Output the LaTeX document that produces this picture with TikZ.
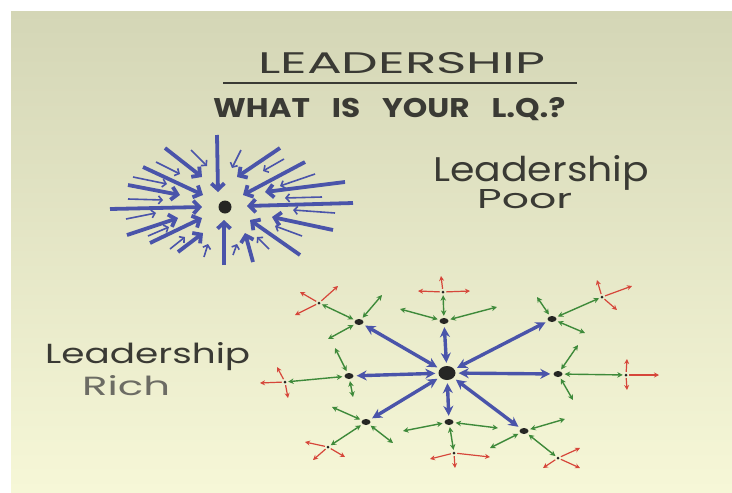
\documentclass[tikz,border=0pt]{standalone}
\usepackage{fontspec}
\setsansfont{Poppins}
\usepackage{graphicx}
\usetikzlibrary{arrows.meta,calc,shapes.geometric}
\definecolor{ink}{RGB}{58,58,52}
\definecolor{inkl}{RGB}{108,108,100}
\definecolor{bl}{RGB}{74,84,170}
\definecolor{gr}{RGB}{62,138,58}
\definecolor{rd}{RGB}{214,70,58}
\definecolor{papertop}{RGB}{212,214,182}
\definecolor{paperbot}{RGB}{247,248,216}
\definecolor{dotc}{RGB}{38,38,36}
\tikzset{
  lbl/.style={inner sep=0pt, anchor=base west, text=ink, font=\sffamily},
  thickin/.style={draw=bl, line width=3.8pt, -{Straight Barb[length=6pt,width=13pt]}},
  thinin/.style={draw=bl, line width=1.6pt, -{Straight Barb[length=3.5pt,width=8pt]}},
  bdbl/.style={draw=bl, line width=3.4pt, {Stealth[length=10pt,width=10pt]}-{Stealth[length=10pt,width=10pt]}, shorten <=3pt, shorten >=3pt},
  gdbl/.style={draw=gr, line width=1.4pt, {Stealth[length=5.5pt,width=5.5pt]}-{Stealth[length=5.5pt,width=5.5pt]}, shorten <=2pt},
  rarr/.style={draw=rd, line width=1.2pt, -{Stealth[length=5pt,width=5pt]}, shorten <=1.5pt},
  bigdot/.style={ellipse, fill=dotc, minimum width=17pt, minimum height=14pt, inner sep=0pt},
  satdot/.style={ellipse, fill=dotc, minimum width=9pt, minimum height=6pt, inner sep=0pt},
  reddot/.style={circle, fill=dotc, minimum size=3pt, inner sep=0pt},
}
\begin{document}
\begin{tikzpicture}[x=1pt,y=-1pt]
\fill[white] (0,0) rectangle (732,493);
\useasboundingbox (0,0) rectangle (732,493);
\fill[paperbot] (11,11) rectangle (745,505);
\shade[top color=papertop,bottom color=paperbot] (11,11) rectangle (745,505);

% titles
\node[lbl] (title) at (258,73) {\resizebox{287pt}{21pt}{LEADERSHIP}};
\draw[ink, line width=2pt] (223,83) -- (577,83);
\node[lbl] (question) at (213,117) {\resizebox{352pt}{20pt}{\bfseries WHAT\hspace{0.7em}IS\hspace{0.7em}YOUR\hspace{0.7em}L.Q.?}};
\node[lbl] (poor1) at (433,181) {\resizebox{216pt}{26pt}{Leadership}};
\node[lbl] (poor2) at (477,208) {\resizebox{95pt}{19pt}{Poor}};
\node[lbl] (rich1) at (45,363) {\resizebox{205pt}{21pt}{Leadership}};
\node[lbl, text=inkl] (rich2) at (82,395) {\resizebox{88pt}{20pt}{Rich}};

% leadership poor starburst
\node[circle, fill=dotc, minimum size=13pt, inner sep=0pt] (pc) at (225,207) {};
\foreach \sx/\sy/\ex/\ey in {-8/-72/-7/-15, -60/-59/-23/-30, -82/-40/-22/-12, -97/-22/-45/-12,
  -115/2/-23/0, -98/28/-47/11, -75/36/-23/11, -47/45/-22/26, -1/58/-1/13, 28/55/20/26,
  75/48/25/13, 108/23/47/10, 128/-4/22/-1, 120/-25/40/-15, 80/-45/18/-12, 55/-59/12/-30}
  \draw[thickin] ($(pc)+(\sx,\sy)$) -- ($(pc)+(\ex,\ey)$);
\foreach \sx/\sy/\ex/\ey in {-34/-57/-18/-41, 16/-57/7/-39, -69/-45/-45/-33, -92/-30/-58/-23,
  -97/-8/-62/-7, -99/12/-69/6, -77/29/-56/20, -55/42/-40/30, -21/50/-17/37, 8/48/12/37,
  44/42/32/30, 77/29/50/19, 110/6/68/3, 97/-10/60/-9, 90/-33/55/-21, 59/-48/38/-36}
  \draw[thinin] ($(pc)+(\sx,\sy)$) -- ($(pc)+(\ex,\ey)$);

% leadership rich network
\node[bigdot] (C) at (447,373) {};
\node[satdot] (s1) at (444,321) {};
\node[satdot] (s2) at (552,319) {};
\node[satdot] (s3) at (558,374) {};
\node[satdot] (s4) at (524,431) {};
\node[satdot] (s5) at (449,422) {};
\node[satdot] (s6) at (366,422) {};
\node[satdot] (s7) at (349,376) {};
\node[satdot] (s8) at (359,322) {};
\node[reddot] (r1) at (443,292) {};
\node[reddot] (r2) at (602,297) {};
\node[reddot] (r3) at (626,375) {};
\node[reddot] (r4) at (558,458) {};
\node[reddot] (r5) at (454,453) {};
\node[reddot] (r6) at (328,447) {};
\node[reddot] (r7) at (285,382) {};
\node[reddot] (r8) at (319,303) {};

\foreach \i in {1,...,8} {
  \draw[bdbl] (C) -- (s\i);
  \draw[gdbl, shorten >=1.5pt] (s\i) -- (r\i);
}
\foreach \n/\dx/\dy in {s1/-44/-12, s1/53/-14, s2/-15/-22, s2/33/14, s3/20/-29, s3/15/26,
  s4/41/-12, s4/-34/17, s5/-46/9, s5/49/6, s6/-34/-15, s6/27/21, s7/-14/-28, s7/4/21,
  s8/23/-27, s8/-31/17}
  \draw[gdbl] (\n) -- ($(\n)+(\dx,\dy)$);
\foreach \n/\dx/\dy in {r1/-25/-1, r1/27/-1, r1/-2/-16, r2/-5/-17, r2/30/-11, r2/15/13,
  r3/1/-16, r3/1/15, r3/33/0, r4/22/-10, r4/22/10, r4/-15/10, r5/-24/6, r5/36/4, r5/1/15,
  r6/-23/-5, r6/-15/13, r6/17/10, r7/-8/-15, r7/-25/1, r7/3/16, r8/-19/-11, r8/19/-17, r8/-24/12}
  \draw[rarr] (\n) -- ($(\n)+(\dx,\dy)$);
\end{tikzpicture}
\end{document}
